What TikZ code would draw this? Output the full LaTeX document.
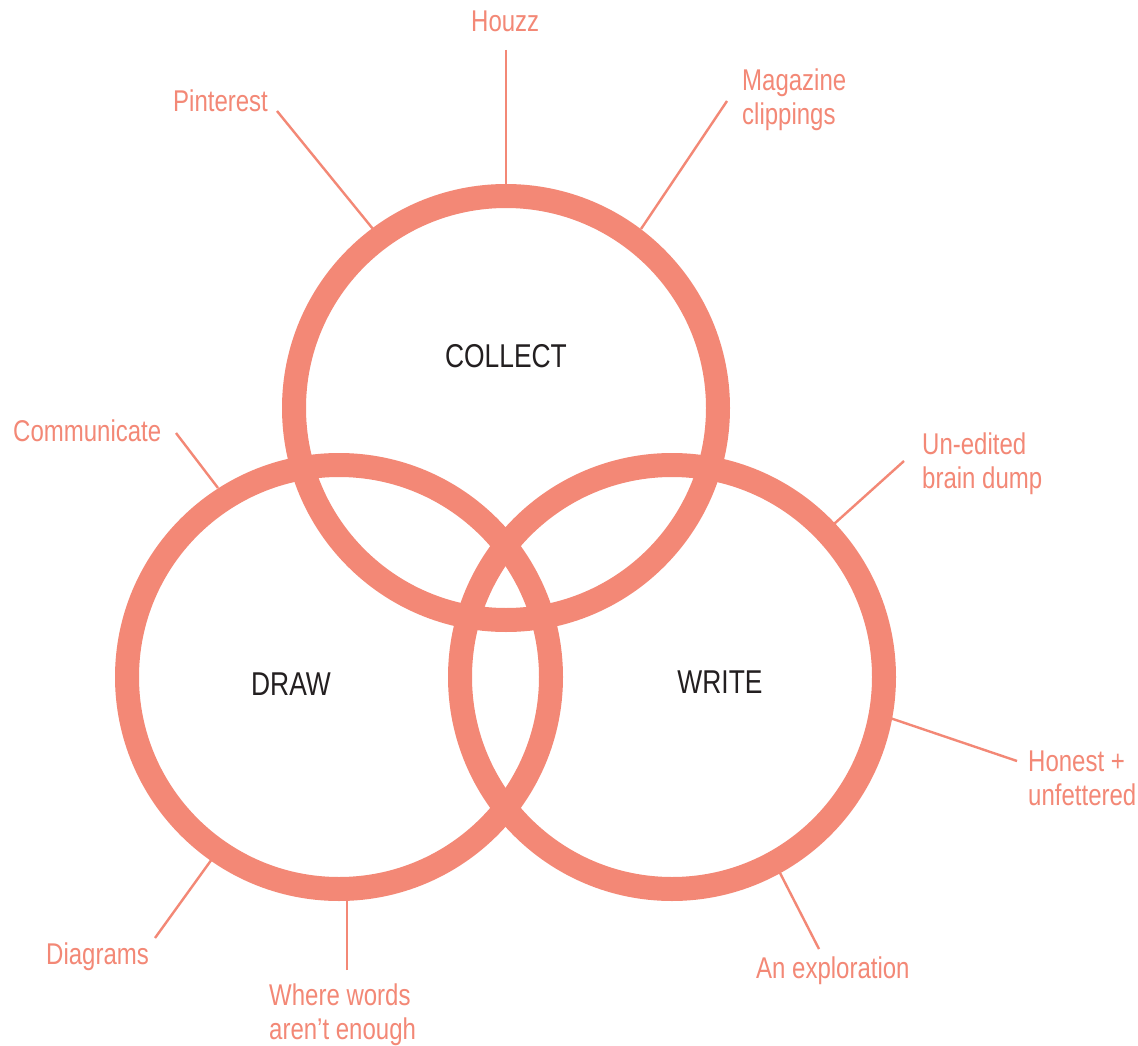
\documentclass[tikz,border=0pt]{standalone}
\usepackage{fontspec}
\newfontfamily\lblfont{Liberation Sans}[FakeStretch=0.8]
\definecolor{salmon}{RGB}{243,136,118}
\definecolor{ink}{RGB}{35,31,32}
\begin{document}
\begin{tikzpicture}[x=1pt,y=-1pt,
  ring/.style={circle, draw=salmon, line width=24pt, minimum size=424pt, inner sep=0pt},
  lbl/.style={font=\lblfont\fontsize{30}{34}\selectfont, text=salmon, inner sep=0pt, align=left},
  title/.style={font=\lblfont\fontsize{33}{36}\selectfont, text=ink, inner sep=0pt},
  spoke/.style={draw=salmon, line width=2.4pt}]
\useasboundingbox[fill=white] (0,0) rectangle (1138,1046);
% circles
\node[ring] (collect) at (506,408) {};
\node[ring] (draw) at (339,677) {};
\node[ring] (write) at (672,677) {};
% titles
\node[title, anchor=base] (tcollect) at (506,367) {COLLECT};
\node[title, anchor=base] (tdraw) at (291,695) {DRAW};
\node[title, anchor=base] (twrite) at (720,693) {WRITE};
% labels (multi-line nodes: base = last line's baseline)
\node[lbl, anchor=base west] (houzz) at (471,32) {Houzz};
\node[lbl, anchor=base west] (pinterest) at (173,112) {Pinterest};
\node[lbl, anchor=base west] (magazine) at (742,125) {Magazine\\clippings};
\node[lbl, anchor=base west] (communicate) at (13,441) {Communicate};
\node[lbl, anchor=base west] (unedited) at (922,488) {Un-edited\\brain dump};
\node[lbl, anchor=base west] (honest) at (1028,805) {Honest +\\unfettered};
\node[lbl, anchor=base west] (diagrams) at (46,964) {Diagrams};
\node[lbl, anchor=base west] (where) at (269,1039) {Where words\\aren’t enough};
\node[lbl, anchor=base west] (explore) at (756,978) {An exploration};
% spoke ends
\coordinate (h1) at (506,50);   \coordinate (h2) at (506,186);
\coordinate (p1) at (277,111);  \coordinate (p2) at (373,229);
\coordinate (m1) at (727,101);  \coordinate (m2) at (641,229);
\coordinate (c1) at (176,433);  \coordinate (c2) at (218,488);
\coordinate (u1) at (904,461);  \coordinate (u2) at (834,524);
\coordinate (o1) at (1017,761); \coordinate (o2) at (890,718);
\coordinate (d1) at (155,938);  \coordinate (d2) at (212,859);
\coordinate (w1) at (347,970);  \coordinate (w2) at (347,899);
\coordinate (e1) at (819,949);  \coordinate (e2) at (779,871);
\draw[spoke] (h1) -- (h2);
\draw[spoke] (p1) -- (p2);
\draw[spoke] (m1) -- (m2);
\draw[spoke] (c1) -- (c2);
\draw[spoke] (u1) -- (u2);
\draw[spoke] (o1) -- (o2);
\draw[spoke] (d1) -- (d2);
\draw[spoke] (w1) -- (w2);
\draw[spoke] (e1) -- (e2);
\end{tikzpicture}
\end{document}
